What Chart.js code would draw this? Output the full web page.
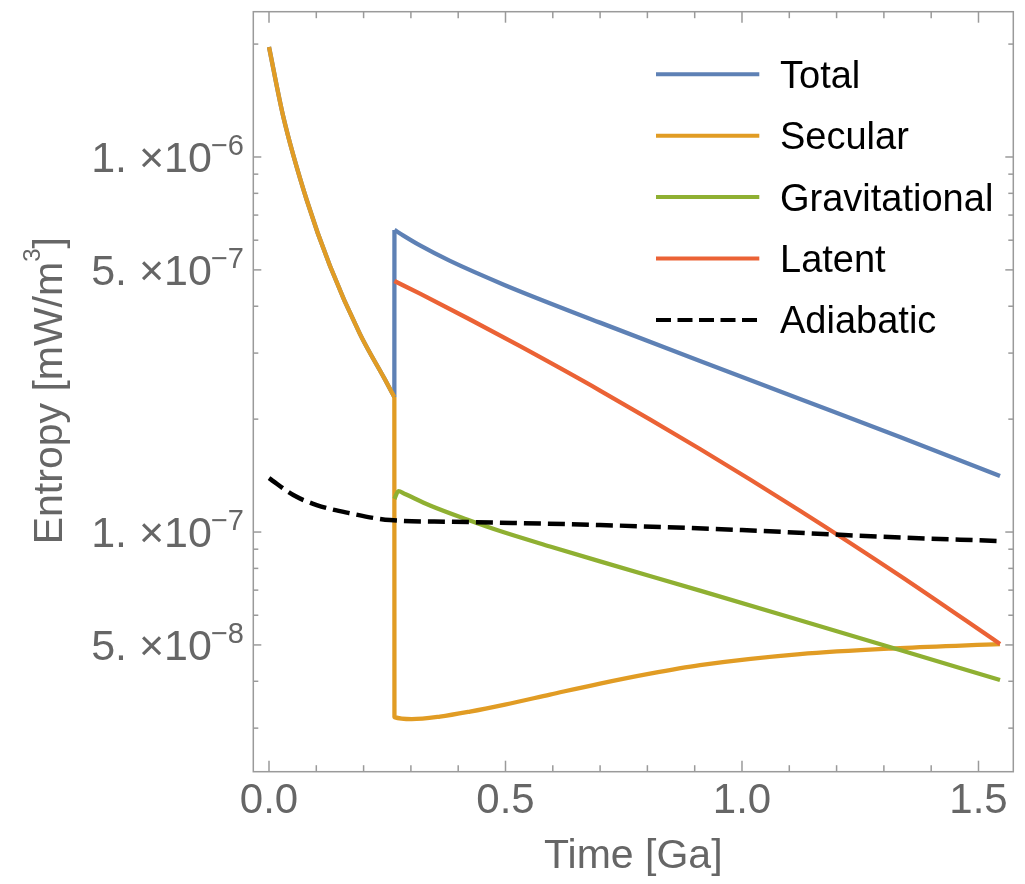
<!DOCTYPE html>
<html>
<head>
<meta charset="utf-8">
<script src="https://cdn.jsdelivr.net/npm/chart.js@4.4.1/dist/chart.umd.min.js"></script>
<style>
  html, body { margin: 0; padding: 0; background: #ffffff; }
  canvas { display: block; }
</style>
</head>
<body>
<canvas id="entropy" width="1025" height="884"></canvas>
<script>
// Time axis in Ga, entropy terms in mW/m^3
const totalTime  = [0, 0.0302, 0.0797, 0.1290, 0.1924, 0.2452, 0.2650, 0.2652, 0.2833, 0.3192, 0.3827, 0.4989, 0.6998, 0.9112, 1.1226, 1.3340, 1.5455];
const totalValue = [1.965e-6, 1.281e-6, 7.68e-7, 5.12e-7, 3.37e-7, 2.55e-7, 2.29e-7, 6.39e-7, 6.18e-7, 5.81e-7, 5.283e-7, 4.553e-7, 3.617e-7, 2.859e-7, 2.264e-7, 1.792e-7, 1.41e-7];

const secularTime  = [0, 0.0302, 0.0797, 0.1290, 0.1924, 0.2452, 0.2650, 0.2652, 0.3017, 0.3615, 0.4249, 0.4989, 0.5941, 0.6998, 0.8055, 0.9112, 1.1226, 1.3340, 1.5455];
const secularValue = [1.965e-6, 1.281e-6, 7.68e-7, 5.12e-7, 3.37e-7, 2.55e-7, 2.29e-7, 3.21e-8, 3.171e-8, 3.221e-8, 3.321e-8, 3.467e-8, 3.687e-8, 3.945e-8, 4.194e-8, 4.418e-8, 4.727e-8, 4.904e-8, 5.026e-8];

const gravTime  = [0.2652, 0.2735, 0.2875, 0.3404, 0.4186, 0.4884, 0.5941, 0.6998, 0.9112, 1.1226, 1.3340, 1.5455];
const gravValue = [1.225e-7, 1.286e-7, 1.263e-7, 1.177e-7, 1.080e-7, 1.006e-7, 9.15e-8, 8.35e-8, 6.98e-8, 5.82e-8, 4.845e-8, 4.03e-8];

const latentTime  = [0.2652, 0.3192, 0.4249, 0.5307, 0.6998, 0.9112, 1.1226, 1.3340, 1.5455];
const latentValue = [4.67e-7, 4.32e-7, 3.687e-7, 3.13e-7, 2.384e-7, 1.665e-7, 1.140e-7, 7.647e-8, 5.03e-8];

const adiabaticTime  = [0, 0.0514, 0.1008, 0.1712, 0.2558, 0.3827, 0.4884, 0.6998, 1.0, 1.2918, 1.5455];
const adiabaticValue = [1.393e-7, 1.255e-7, 1.18e-7, 1.122e-7, 1.076e-7, 1.065e-7, 1.059e-7, 1.044e-7, 1.012e-7, 9.72e-8, 9.46e-8];

// Indices where a curve turns a sharp corner (inner core nucleation)
const totalCorners = [6, 7];
const secularCorners = [6];

// Frame ticks
const timeTicks = [0, 0.5, 1.0, 1.5];
const timeTickLabels = ['0.0', '0.5', '1.0', '1.5'];
const timeMinorTicks = [0.1, 0.2, 0.3, 0.4, 0.6, 0.7, 0.8, 0.9, 1.1, 1.2, 1.3, 1.4];
const entropyTicks = [5e-8, 1e-7, 5e-7, 1e-6];
const entropyTickMantissa = ['5.', '1.', '5.', '1.'];
const entropyTickExponent = ['8', '7', '7', '6'];
const entropyMinorTicks = [3e-8, 4e-8, 6e-8, 7e-8, 8e-8, 9e-8, 2e-7, 3e-7, 4e-7, 6e-7, 7e-7, 8e-7, 9e-7, 2e-6];

const seriesLabels = ['Total', 'Secular', 'Gravitational', 'Latent', 'Adiabatic'];
const seriesColors = ['#5E81B5', '#E19C24', '#8FB032', '#EB6235', '#000000'];

const FONT = '"Liberation Sans", Arial, Helvetica, sans-serif';

// Split a curve at its corner indices so each smooth piece is interpolated on its own
function pieces(i, ts, vs, corners, extra) {
  const cuts = [0].concat(corners || [], [ts.length - 1]);
  const out = [];
  for (let k = 0; k < cuts.length - 1; k++) {
    const data = [];
    for (let j = cuts[k]; j <= cuts[k + 1]; j++) data.push({ x: ts[j], y: vs[j] });
    out.push(Object.assign({
      label: seriesLabels[i],
      data,
      borderColor: seriesColors[i],
      borderWidth: 4.3,
      pointRadius: 0,
      fill: false,
      cubicInterpolationMode: 'monotone',
      borderCapStyle: 'butt',
      borderJoinStyle: 'round',
      order: 5 - i
    }, extra || {}));
  }
  return out;
}

// "m.×10^-e" with the exponent raised and smaller
function drawPower(ctx, mant, exp, right, cy) {
  const base = cy + 14.7;
  ctx.textBaseline = 'alphabetic';
  ctx.textAlign = 'right';
  ctx.font = '29px ' + FONT;
  const sup = '\u2212' + exp;
  const sw = ctx.measureText(sup).width;
  ctx.fillText(sup, right, cy - 2);
  ctx.font = '43px ' + FONT;
  const core = '\u00d710';
  const cw = ctx.measureText(core).width;
  const x10 = right - sw + 1;
  ctx.fillText(core, x10, base);
  ctx.fillText(mant, x10 - cw - 12, base);
}

const framePlugin = {
  id: 'frame',
  afterDraw(chart) {
    const { ctx, chartArea: a, scales } = chart;
    const xs = scales.x, ys = scales.y;
    ctx.save();
    ctx.strokeStyle = '#9a9a9a';
    ctx.lineWidth = 1.5;
    ctx.strokeRect(a.left, a.top, a.right - a.left, a.bottom - a.top);
    const seg = (x1, y1, x2, y2) => { ctx.beginPath(); ctx.moveTo(x1, y1); ctx.lineTo(x2, y2); ctx.stroke(); };
    timeTicks.forEach(v => { const p = xs.getPixelForValue(v); seg(p, a.bottom, p, a.bottom - 11); seg(p, a.top, p, a.top + 11); });
    timeMinorTicks.forEach(v => { const p = xs.getPixelForValue(v); seg(p, a.bottom, p, a.bottom - 6.5); seg(p, a.top, p, a.top + 6.5); });
    entropyTicks.forEach(v => { const p = ys.getPixelForValue(v); seg(a.left, p, a.left + 8, p); seg(a.right, p, a.right - 8, p); });
    entropyMinorTicks.forEach(v => { const p = ys.getPixelForValue(v); seg(a.left, p, a.left + 5, p); seg(a.right, p, a.right - 5, p); });

    // tick labels
    ctx.fillStyle = '#666666';
    ctx.font = '42px ' + FONT;
    ctx.textAlign = 'center';
    ctx.textBaseline = 'alphabetic';
    timeTicks.forEach((v, i) => ctx.fillText(timeTickLabels[i], xs.getPixelForValue(v), 812.7));
    entropyTicks.forEach((v, i) => drawPower(ctx, entropyTickMantissa[i], entropyTickExponent[i], 244, ys.getPixelForValue(v)));

    // axis titles
    ctx.font = '41px ' + FONT;
    ctx.textAlign = 'center';
    ctx.fillText('Time [Ga]', (a.left + a.right) / 2, 868);

    ctx.save();
    ctx.translate(61.7, (a.top + a.bottom) / 2 - 1);
    ctx.rotate(-Math.PI / 2);
    ctx.textAlign = 'left';
    const p1 = 'Entropy [mW/m', p2 = '3', p3 = ']';
    ctx.font = '41px ' + FONT; const w1 = ctx.measureText(p1).width; const w3 = ctx.measureText(p3).width;
    ctx.font = '24px ' + FONT; const w2 = ctx.measureText(p2).width;
    const sx = -(w1 + w2 + w3) / 2;
    ctx.font = '41px ' + FONT; ctx.fillText(p1, sx, 0);
    ctx.font = '24px ' + FONT; ctx.fillText(p2, sx + w1, -21.7);
    ctx.font = '41px ' + FONT; ctx.fillText(p3, sx + w1 + w2, 0);
    ctx.restore();

    // legend
    seriesLabels.forEach((label, i) => {
      const ly = 74.3 + i * 61.4;
      ctx.strokeStyle = seriesColors[i];
      ctx.lineWidth = 4;
      ctx.setLineDash(label === 'Adiabatic' ? [15, 6.5] : []);
      seg(656, ly, 759.3, ly);
      ctx.setLineDash([]);
      ctx.fillStyle = '#000000';
      ctx.font = '38px ' + FONT;
      ctx.textAlign = 'left';
      ctx.fillText(label, 780, ly + 13.5);
    });
    ctx.restore();
  }
};

new Chart(document.getElementById('entropy'), {
  type: 'line',
  data: {
    datasets: [].concat(
      pieces(0, totalTime, totalValue, totalCorners),
      pieces(1, secularTime, secularValue, secularCorners),
      pieces(2, gravTime, gravValue),
      pieces(3, latentTime, latentValue),
      pieces(4, adiabaticTime, adiabaticValue, [], { borderDash: [17, 7], borderWidth: 4.5 })
    )
  },
  options: {
    responsive: false,
    devicePixelRatio: 1,
    animation: false,
    layout: { padding: { left: 253.3, top: 11.7, right: 11.7, bottom: 112.3 } },
    plugins: { legend: { display: false }, tooltip: { enabled: false } },
    scales: {
      x: { type: 'linear', display: false, bounds: 'data', min: -0.0332, max: 1.5736 },
      y: { type: 'logarithmic', display: false, bounds: 'data', min: 2.296e-8, max: 2.44e-6 }
    }
  },
  plugins: [framePlugin]
});
</script>
</body>
</html>
